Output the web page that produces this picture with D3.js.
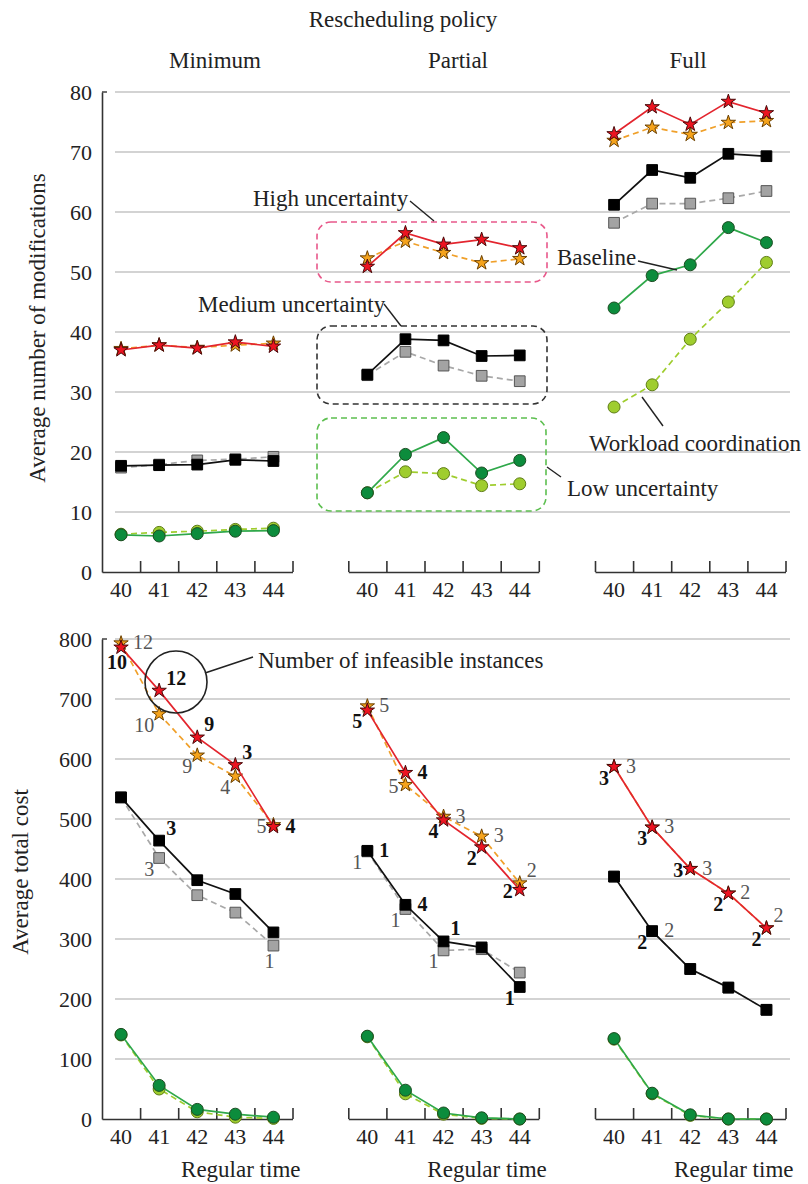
<!DOCTYPE html>
<html>
<head>
<meta charset="utf-8">
<script src="https://cdn.jsdelivr.net/npm/d3@7"></script>
<style>
body { margin: 0; background: #fff; }
svg { font-family: "Liberation Serif", "Times New Roman", serif; }
</style>
</head>
<body>
<div id="chart"></div>
<script>
const regularTime = [40, 41, 42, 43, 44];
const policies = ["Minimum", "Partial", "Full"];
const modTicks = [0, 10, 20, 30, 40, 50, 60, 70, 80];
const costTicks = [0, 100, 200, 300, 400, 500, 600, 700, 800];

// average number of modifications, one row per policy (Minimum, Partial, Full)
const modsHighBaseline = [[37.0, 37.8, 37.3, 38.3, 37.6], [50.9, 56.5, 54.6, 55.4, 54.0], [73.0, 77.5, 74.6, 78.4, 76.5]];
const modsHighWorkload = [[37.2, 37.8, 37.4, 37.8, 38.1], [52.3, 55.1, 53.2, 51.5, 52.2], [71.9, 74.1, 72.9, 74.9, 75.2]];
const modsMedBaseline  = [[17.7, 17.8, 17.9, 18.7, 18.5], [32.9, 38.8, 38.6, 36.0, 36.1], [61.2, 67.0, 65.7, 69.7, 69.3]];
const modsMedWorkload  = [[17.4, 17.9, 18.6, 18.8, 19.2], [32.8, 36.7, 34.4, 32.7, 31.8], [58.2, 61.4, 61.4, 62.3, 63.5]];
const modsLowBaseline  = [[6.2, 6.0, 6.4, 6.8, 6.9], [13.2, 19.6, 22.4, 16.5, 18.6], [44.0, 49.4, 51.2, 57.4, 54.9]];
const modsLowWorkload  = [[6.3, 6.6, 6.8, 7.1, 7.3], [13.2, 16.7, 16.4, 14.4, 14.7], [27.5, 31.2, 38.8, 45.0, 51.6]];

// average total cost
const costHighBaseline = [[786, 714, 636, 590, 487], [681, 577, 498, 453, 382], [587, 486, 417, 376, 318]];
const costHighWorkload = [[793, 675, 606, 571, 490], [688, 557, 504, 471, 393], [587, 486, 417, 376, 318]];
const costMedBaseline  = [[536, 464, 398, 375, 311], [447, 357, 296, 286, 220], [404, 313, 250, 219, 182]];
const costMedWorkload  = [[536, 435, 373, 344, 289], [446, 350, 281, 283, 244], [404, 313, 250, 219, 182]];
const costLowBaseline  = [[141, 56, 16, 8, 3], [138, 48, 10, 2, 0], [134, 43, 7, 0, 0]];
const costLowWorkload  = [[140, 50, 12, 3, 1], [137, 42, 8, 1, 0], [133, 42, 6, 0, 0]];

// number of infeasible instances
const infHighBaseline = [[10, 12, 9, 3, 4], [5, 4, 4, 2, 2], [3, 3, 3, 2, 2]];
const infHighWorkload = [[12, 10, 9, 4, 5], [5, 5, 3, 3, 2], [3, 3, 3, 2, 2]];
const infMedBaseline  = [[null, 3, null, null, null], [1, 4, 1, null, 1], [null, 2, null, null, null]];
const infMedWorkload  = [[null, 3, null, null, 1], [1, 1, 1, null, null], [null, 2, null, null, null]];

// where each count sits next to its marker
const placeHighBaseline = [["b", "ur", "ur", "ur", "r"], ["ll", "r", "ll", "ll", "l"], ["ll", "ll", "l", "ll", "ll"]];
const placeHighWorkload = [["r", "ll", "ll", "ll", "l"], ["r", "l", "r", "r", "ur"], ["r", "r", "r", "r", "ur"]];
const placeMedBaseline  = [[null, "ur", null, null, null], ["r", "r", "ur", null, "ll"], [null, "ll", null, null, null]];
const placeMedWorkload  = [[null, "ll", null, null, "b"], ["ll", "ll", "ll", null, null], [null, "r", null, null, null]];

const W = 808, H = 1184;
const panelX = [102, 348.3, 595];
const panelW = 190.5;
const gridX0 = 115, gridX1 = 790;

const svg = d3.select("#chart").append("svg")
    .attr("width", W)
    .attr("height", H);

const offs = {
    r:  { dx: 12, dy: 6, anchor: "start" },
    ur: { dx: 7, dy: -6, anchor: "start" },
    l:  { dx: -7, dy: 8, anchor: "end" },
    ll: { dx: -5, dy: 18, anchor: "end" },
    b:  { dx: -4, dy: 22, anchor: "middle" }
};

const styles = {
    lowW:  { line: "#9fcd2e", dash: "6,4", shape: "circle", fill: "#9fcd2e", stroke: "#5f7d16" },
    lowB:  { line: "#2fa84a", dash: null, shape: "circle", fill: "#0c8c3c", stroke: "#1b4d22" },
    medW:  { line: "#a8a8a8", dash: "6,4", shape: "square", fill: "#a3a3a3", stroke: "#555" },
    medB:  { line: "#111", dash: null, shape: "square", fill: "#000", stroke: "#000" },
    highW: { line: "#f0a02a", dash: "6,4", shape: "star", fill: "#f5a31c", stroke: "#6b4000" },
    highB: { line: "#e3252e", dash: null, shape: "star", fill: "#ec1421", stroke: "#4a0a0a" }
};

const symbols = {
    circle: d3.symbol().type(d3.symbolCircle).size(Math.PI * 36),
    square: d3.symbol().type(d3.symbolSquare).size(115),
    star: d3.symbol().type(d3.symbolStar).size(64)
};

function chart(cfg) {
    const y = d3.scaleLinear().domain(cfg.domain).range(cfg.range);
    const g = svg.append("g");

    // gridlines
    g.selectAll(".grid")
        .data(cfg.ticks.filter(d => d > 0))
        .enter().append("line")
        .attr("x1", gridX0).attr("x2", gridX1)
        .attr("y1", d => y(d)).attr("y2", d => y(d))
        .attr("stroke", "#c4c4c4")
        .attr("stroke-width", 1.5);

    // y axis
    const yAxis = g.append("g")
        .attr("transform", "translate(" + panelX[0] + ",0)")
        .call(d3.axisLeft(y).tickValues(cfg.ticks).tickSize(0).tickPadding(10));
    yAxis.select(".domain").attr("stroke", "#333").attr("stroke-width", 1.6);
    yAxis.selectAll("text").attr("font-size", 22).attr("fill", "#222")
        .attr("font-family", "Liberation Serif");
    g.append("line")
        .attr("x1", panelX[0]).attr("x2", panelX[0] + 5)
        .attr("y1", y(cfg.domain[1])).attr("y2", y(cfg.domain[1]))
        .attr("stroke", "#333").attr("stroke-width", 1.4);

    g.append("text")
        .attr("transform", "translate(" + cfg.labelX + "," + cfg.labelY + ") rotate(-90)")
        .attr("text-anchor", "middle")
        .attr("font-size", 23)
        .attr("fill", "#222")
        .text(cfg.title);

    policies.forEach((p, i) => {
        const x = d3.scaleBand().domain(regularTime).range([panelX[i], panelX[i] + panelW]);
        const xb = d3.scaleLinear().domain([39.5, 44.5]).range([panelX[i], panelX[i] + panelW]);
        const base = y(0);

        const tickAx = g.append("g")
            .attr("transform", "translate(0," + base + ")")
            .call(d3.axisBottom(xb).tickValues(i === 0 ? [40.5, 41.5, 42.5, 43.5, 44.5] : [39.5, 40.5, 41.5, 42.5, 43.5, 44.5])
                .tickSizeInner(-11).tickSizeOuter(0).tickFormat(""));
        tickAx.select(".domain").attr("stroke", "#333").attr("stroke-width", 1.6);
        tickAx.selectAll("line").attr("stroke", "#333").attr("stroke-width", 1.6);

        const labAx = g.append("g")
            .attr("transform", "translate(0," + base + ")")
            .call(d3.axisBottom(x).tickSize(0).tickPadding(9));
        labAx.select(".domain").remove();
        labAx.selectAll("text").attr("font-size", 22).attr("fill", "#222")
            .attr("font-family", "Liberation Serif");

        const line = d3.line().x((d, k) => x(regularTime[k]) + x.bandwidth() / 2).y(d => y(d));

        cfg.series.forEach(s => {
            const st = styles[s.style];
            const vals = s.values[i];
            g.append("path")
                .attr("d", line(vals))
                .attr("fill", "none")
                .attr("stroke", st.line)
                .attr("stroke-width", 1.7)
                .attr("stroke-dasharray", st.dash);
            g.selectAll(null)
                .data(vals)
                .enter().append("path")
                .attr("d", symbols[st.shape])
                .attr("transform", (d, k) => "translate(" + (x(regularTime[k]) + x.bandwidth() / 2) + "," + y(d) + ")")
                .attr("fill", st.fill)
                .attr("stroke", st.stroke)
                .attr("stroke-width", 1);
        });

        (cfg.counts || []).forEach(c => {
            const vals = c.values[i];
            const nums = c.counts[i];
            const pl = c.place[i];
            nums.forEach((n, k) => {
                if (n === null) return;
                const o = offs[pl[k]];
                g.append("text")
                    .attr("x", x(regularTime[k]) + x.bandwidth() / 2 + o.dx)
                    .attr("y", y(vals[k]) + o.dy)
                    .attr("text-anchor", o.anchor)
                    .attr("font-size", 20)
                    .attr("font-weight", c.bold ? "bold" : "normal")
                    .attr("fill", c.bold ? "#111" : "#555")
                    .text(n);
            });
        });

        if (cfg.xTitle) {
            g.append("text")
                .attr("x", panelX[i] + panelW + 8)
                .attr("y", 1177)
                .attr("text-anchor", "end")
                .attr("font-size", 23)
                .attr("fill", "#222")
                .text(cfg.xTitle);
        }
    });
    return y;
}

// top chart
chart({
    domain: [0, 80], range: [572, 92], ticks: modTicks,
    title: "Average number of modifications", labelX: 45, labelY: 328,
    series: [
        { style: "lowW", values: modsLowWorkload },
        { style: "lowB", values: modsLowBaseline },
        { style: "medW", values: modsMedWorkload },
        { style: "medB", values: modsMedBaseline },
        { style: "highW", values: modsHighWorkload },
        { style: "highB", values: modsHighBaseline }
    ]
});

// bottom chart
chart({
    domain: [0, 800], range: [1119, 639], ticks: costTicks,
    title: "Average total cost", labelX: 28, labelY: 872,
    xTitle: "Regular time",
    series: [
        { style: "lowW", values: costLowWorkload },
        { style: "lowB", values: costLowBaseline },
        { style: "medW", values: costMedWorkload },
        { style: "medB", values: costMedBaseline },
        { style: "highW", values: costHighWorkload },
        { style: "highB", values: costHighBaseline }
    ],
    counts: [
        { values: costHighWorkload, counts: infHighWorkload, place: placeHighWorkload, bold: false },
        { values: costHighBaseline, counts: infHighBaseline, place: placeHighBaseline, bold: true },
        { values: costMedWorkload, counts: infMedWorkload, place: placeMedWorkload, bold: false },
        { values: costMedBaseline, counts: infMedBaseline, place: placeMedBaseline, bold: true }
    ]
});

// titles
svg.append("text").attr("x", 403).attr("y", 27).attr("text-anchor", "middle")
    .attr("font-size", 23).attr("fill", "#222").text("Rescheduling policy");
const titleX = [215, 458, 688];
policies.forEach((p, i) => {
    svg.append("text").attr("x", titleX[i]).attr("y", 68).attr("text-anchor", "middle")
        .attr("font-size", 23).attr("fill", "#222").text(p);
});

// annotations, top chart
const ann = svg.append("g").attr("fill", "none").attr("stroke-width", 1.6).attr("stroke-dasharray", "6,4");
ann.append("rect").attr("x", 317).attr("y", 222).attr("width", 230).attr("height", 60).attr("rx", 14).attr("stroke", "#e8588a");
ann.append("rect").attr("x", 317).attr("y", 326).attr("width", 230).attr("height", 78).attr("rx", 14).attr("stroke", "#333");
ann.append("rect").attr("x", 317).attr("y", 418).attr("width", 229).attr("height", 93).attr("rx", 14).attr("stroke", "#5cbf4f");

const notes = [
    { text: "High uncertainty", x: 253, y: 206, lx1: 410, ly1: 201, lx2: 434, ly2: 221 },
    { text: "Medium uncertainty", x: 198, y: 312, lx1: 384, ly1: 304, lx2: 401, ly2: 326 },
    { text: "Baseline", x: 557, y: 265, lx1: 638, ly1: 261, lx2: 677, ly2: 270 },
    { text: "Workload coordination", x: 589, y: 451, lx1: 663, ly1: 426, lx2: 642, ly2: 397 },
    { text: "Low uncertainty", x: 567, y: 496, lx1: 547, ly1: 467, lx2: 561, ly2: 477 },
    { text: "Number of infeasible instances", x: 258, y: 668, lx1: 205, ly1: 673, lx2: 253, ly2: 657 }
];
notes.forEach(n => {
    svg.append("text").attr("x", n.x).attr("y", n.y).attr("font-size", 23).attr("fill", "#222").text(n.text);
    svg.append("line").attr("x1", n.lx1).attr("y1", n.ly1).attr("x2", n.lx2).attr("y2", n.ly2)
        .attr("stroke", "#222").attr("stroke-width", 1.4);
});
svg.append("circle").attr("cx", 176).attr("cy", 682).attr("r", 31)
    .attr("fill", "none").attr("stroke", "#222").attr("stroke-width", 1.6);
</script>
</body>
</html>
